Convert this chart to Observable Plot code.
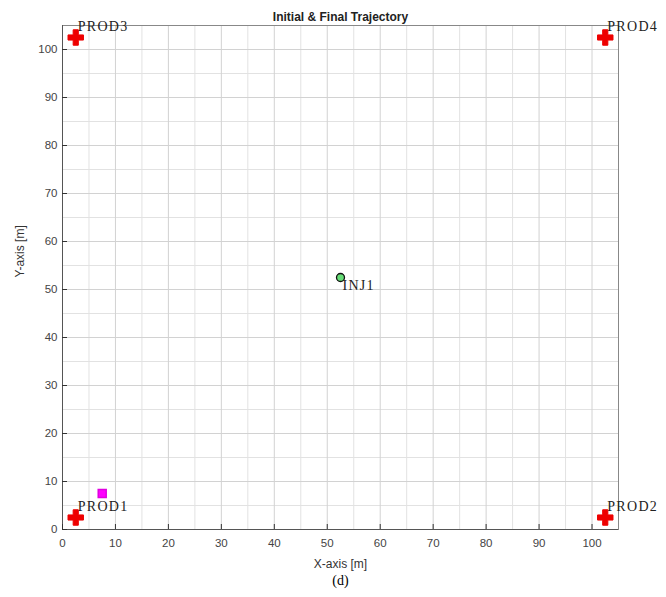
<!DOCTYPE html>
<html><head><meta charset="utf-8">
<script src="https://cdn.jsdelivr.net/npm/d3@7"></script>
<script src="https://cdn.jsdelivr.net/npm/@observablehq/plot@0.6"></script>
<style>body{margin:0;background:#fff}</style>
</head><body><div id="chart"></div>
<script>
const wellNames = ["PROD1","PROD2","PROD3","PROD4"];
const wellX = [2.5, 102.5, 2.5, 102.5];
const wellY = [2.5, 2.5, 102.5, 102.5];
const injName = ["INJ1"];
const injX = [52.5];
const injY = [52.5];
const pathX = [7.5];
const pathY = [7.5];
const majorTicks = [0,10,20,30,40,50,60,70,80,90,100];
const minorTicks = [5,15,25,35,45,55,65,75,85,95];

const wells = wellNames.map((n,i)=>({n, x: wellX[i], y: wellY[i]}));
const inj = injName.map((n,i)=>({n, x: injX[i], y: injY[i]}));
const pts = pathX.map((x,i)=>({x, y: pathY[i]}));

const chart = Plot.plot({
  width: 666, height: 597,
  marginLeft: 62, marginRight: 48, marginTop: 25, marginBottom: 68,
  x: {domain: [0,105]},
  y: {domain: [0,105]},
  style: {fontFamily: "Liberation Sans, Arial, sans-serif", fontSize: "11px", color: "#444"},
  marks: [
    Plot.gridX(minorTicks, {stroke: "#e2e2e2", strokeOpacity: 1}),
    Plot.gridY(minorTicks, {stroke: "#e2e2e2", strokeOpacity: 1}),
    Plot.gridX(majorTicks, {stroke: "#d2d2d2", strokeOpacity: 1}),
    Plot.gridY(majorTicks, {stroke: "#d2d2d2", strokeOpacity: 1}),
    Plot.frame({stroke: "#888"}),
    Plot.ruleY([0], {stroke: "#555"}),
    Plot.ruleX([0], {stroke: "#555"}),
    Plot.axisX(majorTicks, {tickSize: -5, tickPadding: 14, stroke: "#333", fill: "#444", fontSize: 11.5, label: null}),
    Plot.axisY(majorTicks, {tickSize: -5, tickPadding: 10, stroke: "#333", fill: "#444", fontSize: 11.5, label: null}),
    Plot.text(["X-axis [m]"], {frameAnchor: "bottom", dy: 38, fontSize: 12, fill: "#333"}),
    Plot.text(["Y-axis [m]"], {frameAnchor: "left", dx: -42, rotate: -90, fontSize: 12, fill: "#333"}),
    Plot.text(["Initial & Final Trajectory"], {frameAnchor: "top", dy: -13, fontWeight: "bold", fontSize: 12, fill: "#222"}),
    Plot.text(["(d)"], {frameAnchor: "bottom", dy: 55, fontSize: 14, fill: "#000", fontFamily: "Liberation Serif, serif"}),
    Plot.dot(pts, {x: "x", y: "y", symbol: "square", r: 4.5, fill: "#ff00ff", stroke: "#e000e0"}),
    Plot.dot(wells, {x: "x", y: "y", symbol: "cross", r: 6.5, fill: "#ee0000", stroke: "#ee0000", strokeWidth: 1}),
    Plot.text(wells, {x: "x", y: "y", text: "n", textAnchor: "start", dx: 2, dy: -11, fontSize: 14, fill: "#222", fontFamily: "Liberation Serif, serif"}),
    Plot.dot(inj, {x: "x", y: "y", r: 4, fill: "#66dd77", stroke: "#111", strokeWidth: 1.3}),
    Plot.text(inj, {x: "x", y: "y", text: "n", textAnchor: "start", dx: 2, dy: 8, fontSize: 14, fill: "#222", fontFamily: "Liberation Serif, serif"})
  ]
});
chart.querySelectorAll("text").forEach(t => {
  if (/^(PROD\d|INJ\d)$/.test(t.textContent)) t.style.letterSpacing = "1.3px";
});
document.getElementById("chart").append(chart);
</script></body></html>
